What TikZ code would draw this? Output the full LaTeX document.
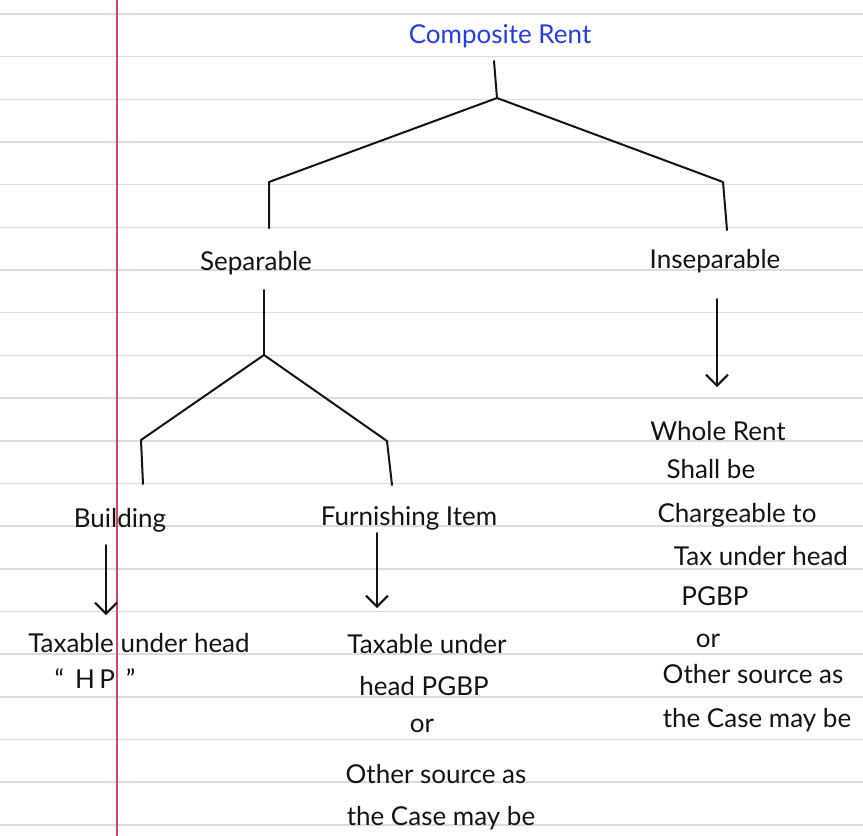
\documentclass[tikz,border=0pt]{standalone}
\usepackage{fontspec}
\setmainfont{Lato}
\usetikzlibrary{arrows.meta}
\definecolor{rule}{RGB}{220,220,220}
\definecolor{margin}{RGB}{214,70,92}
\definecolor{inkblue}{RGB}{40,60,228}
\definecolor{ink}{RGB}{20,20,20}
\begin{document}
\begin{tikzpicture}[x=1pt,y=-1pt,
  hand/.style={anchor=base,inner sep=0pt,text=ink,font=\fontsize{26}{30}\selectfont},
  title/.style={hand,text=inkblue},
  branch/.style={draw=ink,line width=2pt,line cap=round,line join=round},
  down/.style={branch,-{Straight Barb[length=11pt,width=22pt]}}]
\useasboundingbox (0,0) rectangle (863,836);
\fill[white] (0,0) rectangle (863,836);
% ruled paper
\foreach \k in {0,...,19}
  \draw[rule,line width=1.6pt] (0,{14+42.67*\k}) -- (863,{14+42.67*\k});
\draw[margin,line width=1.2pt] (117,0) -- (117,836);

% headings
\node[title] (root) at (500,43) {Composite Rent};
\node[hand] (sep) at (256,270) {Separable};
\node[hand] (insep) at (715,268) {Inseparable};
\node[hand] (bld) at (120,527) {Building};
\node[hand] (furn) at (409,525) {Furnishing Item};

% results
\node[hand] (b1) at (139,652) {Taxable under head};
\node[hand] (b2) at (95,688) {“\ \,H\,P\ \,”};

\node[hand] (f1) at (427,653) {Taxable under};
\node[hand] (f2) at (424,695) {head PGBP};
\node[hand] (f3) at (422,732) {or};
\node[hand] (f4) at (436,783) {Other source as};
\node[hand] (f5) at (441,825) {the Case may be};

\node[hand] (w1) at (718,440) {Whole Rent};
\node[hand] (w2) at (711,478) {Shall be};
\node[hand] (w3) at (737,522) {Chargeable to};
\node[hand] (w4) at (761,565) {Tax under head};
\node[hand] (w5) at (715,605) {PGBP};
\node[hand] (w6) at (708,647) {or};
\node[hand] (w7) at (753,683) {Other source as};
\node[hand] (w8) at (757,727) {the Case may be};

% tree junctions
\coordinate (rootstem) at (494,61);
\coordinate (rootfork) at (497,98);
\coordinate (lcorner) at (269,182);
\coordinate (lend) at (269,228);
\coordinate (rcorner) at (723,182);
\coordinate (rend) at (727,230);
\coordinate (sepstem) at (264,290);
\coordinate (sepfork) at (264,355);
\coordinate (bcorner) at (141,440);
\coordinate (bend) at (143,484);
\coordinate (fcorner) at (387,441);
\coordinate (fend) at (392,485);

\draw[branch] (rootstem) -- (rootfork);
\draw[branch] (lend) -- (lcorner) -- (rootfork) -- (rcorner) -- (rend);
\draw[branch] (sepstem) -- (sepfork);
\draw[branch] (bend) -- (bcorner) -- (sepfork) -- (fcorner) -- (fend);

% arrows
\coordinate (ia) at (717,299);
\coordinate (ib) at (717,387);
\coordinate (ba) at (106,545);
\coordinate (bb) at (106,615);
\coordinate (fa) at (377,533);
\coordinate (fb) at (377,608);
\draw[down] (ia) -- (ib);
\draw[down] (ba) -- (bb);
\draw[down] (fa) -- (fb);
\end{tikzpicture}
\end{document}
